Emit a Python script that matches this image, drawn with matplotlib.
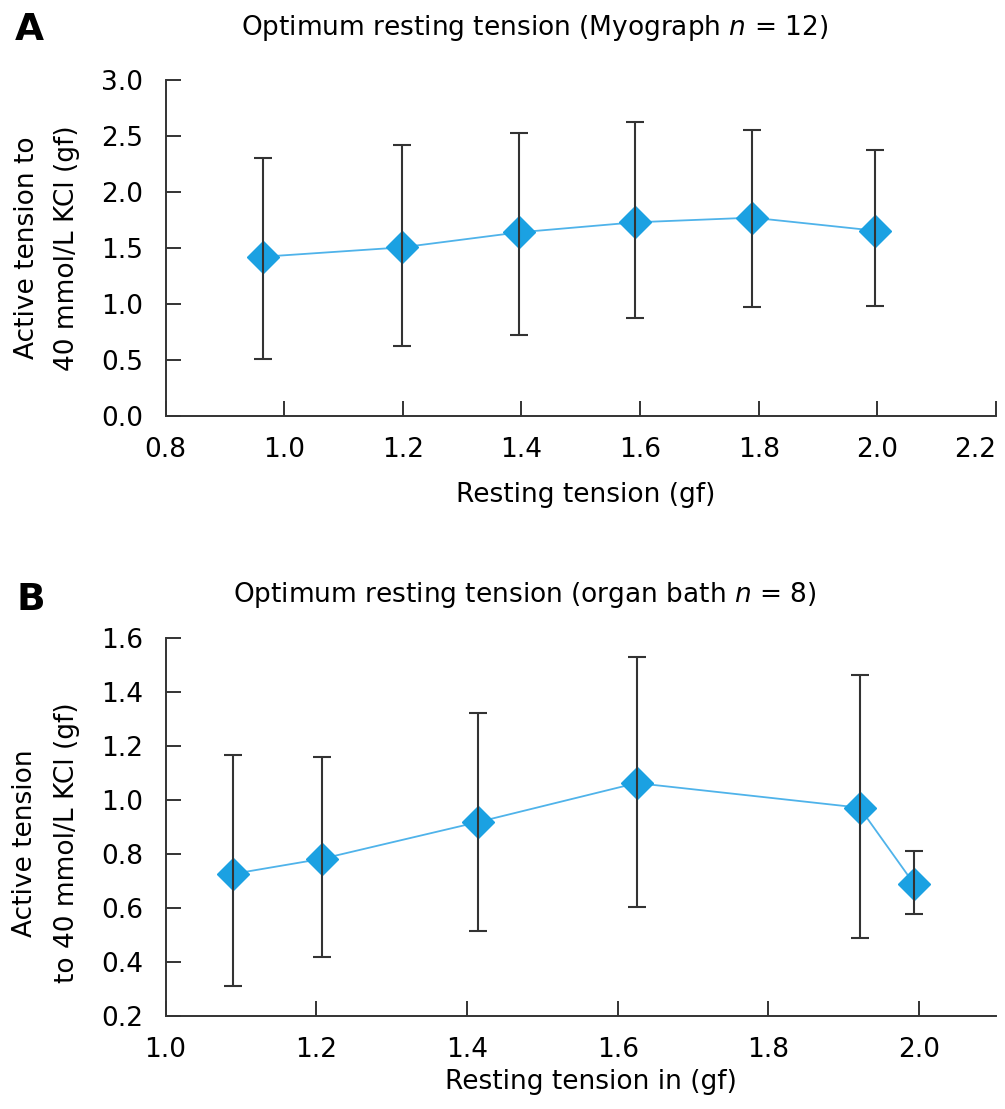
import matplotlib
matplotlib.use('Agg')
import matplotlib.pyplot as plt
import numpy as np

#--panel A: myograph (n=12)
xA = [0.964, 1.199, 1.396, 1.591, 1.789, 1.996]
yA = [1.422, 1.506, 1.640, 1.729, 1.771, 1.655]
loA = [0.509, 0.625, 0.720, 0.875, 0.973, 0.985]
hiA = [2.304, 2.422, 2.530, 2.625, 2.554, 2.375]

#--panel B: organ bath (n=8)
xB = [1.090, 1.208, 1.415, 1.625, 1.921, 1.993]
yB = [0.726, 0.782, 0.918, 1.062, 0.971, 0.690]
loB = [0.311, 0.419, 0.513, 0.603, 0.490, 0.579]
hiB = [1.165, 1.160, 1.323, 1.530, 1.461, 0.811]

xticksA = [0.8, 1.0, 1.2, 1.4, 1.6, 1.8, 2.0, 2.2]
yticksA = [0.0, 0.5, 1.0, 1.5, 2.0, 2.5, 3.0]
xticksB = [1.0, 1.2, 1.4, 1.6, 1.8, 2.0]
yticksB = [0.2, 0.4, 0.6, 0.8, 1.0, 1.2, 1.4, 1.6]

blue = '#1ba1e2'
lineblue = '#4fb3ea'
grey = '#333333'
fs = 19

plt.rcParams['font.family'] = ['DejaVu Sans']

W, H = 1005, 1109
fig = plt.figure(figsize=(W/100, H/100), dpi=100)

def px(l, t, r, b):
  return [l/W, 1-b/H, (r-l)/W, (b-t)/H]

axA = fig.add_axes(px(165.6, 80, 996, 416))
axB = fig.add_axes(px(165.6, 637.7, 996, 1016))

def draw(ax, x, y, lo, hi):
  x = np.array(x) ; y = np.array(y)
  err = [y-np.array(lo), np.array(hi)-y]
  ax.plot(x, y, color=lineblue, lw=1.3, zorder=2)
  ax.plot(x, y, ls='none', marker='D', ms=16, mfc=blue, mec=blue, zorder=3)
  ax.errorbar(x, y, yerr=err, fmt='none', ecolor=grey, elinewidth=1.5,
              capsize=6.5, capthick=1.5, zorder=4)
  for s in ['top', 'right']:
    ax.spines[s].set_visible(False)
  for s in ['left', 'bottom']:
    ax.spines[s].set_color(grey)
    ax.spines[s].set_linewidth(1.4)
  ax.tick_params(direction='in', length=11, width=1.4, color=grey, labelsize=fs)
  ax.tick_params(axis='x', pad=15)
  ax.tick_params(axis='y', pad=16)

draw(axA, xA, yA, loA, hiA)
axA.set_xlim(0.8, 2.2) ; axA.set_ylim(0, 3.0)
axA.set_xticks(xticksA) ; axA.set_yticks(yticksA)
labs = axA.set_xticklabels(['%.1f' % v for v in xticksA])
labs[-1].set_ha('right')
axA.set_yticklabels(['%.1f' % v for v in yticksA])

draw(axB, xB, yB, loB, hiB)
axB.set_xlim(1.0, 2.102) ; axB.set_ylim(0.2, 1.6)
axB.set_xticks(xticksB) ; axB.set_yticks(yticksB)
axB.set_xticklabels(['%.1f' % v for v in xticksB])
axB.set_yticklabels(['%.1f' % v for v in yticksB])

#--titles, panel letters, axis labels
fig.text(535/W, 1-28/H, 'Optimum resting tension (Myograph $n$ = 12)', fontsize=fs,
         ha='center', va='center')
fig.text(525/W, 1-595/H, 'Optimum resting tension (organ bath $n$ = 8)', fontsize=fs,
         ha='center', va='center')
fig.text(29/W, 1-30/H, 'A', fontsize=27, fontweight='bold', ha='center', va='center')
fig.text(31/W, 1-600/H, 'B', fontsize=27, fontweight='bold', ha='center', va='center')
fig.text(586/W, 1-495/H, 'Resting tension (gf)', fontsize=fs, ha='center', va='center')
fig.text(591/W, 1-1082/H, 'Resting tension in (gf)', fontsize=fs, ha='center', va='center')
fig.text(47/W, 1-248/H, 'Active tension to\n40 mmol/L KCl (gf)', fontsize=fs, rotation=90,
         ha='center', va='center', multialignment='center', linespacing=1.75)
fig.text(46/W, 1-843/H, 'Active tension\nto 40 mmol/L KCl (gf)', fontsize=fs, rotation=90,
         ha='center', va='center', multialignment='center', linespacing=1.75)

fig.savefig('out.png', dpi=100)
